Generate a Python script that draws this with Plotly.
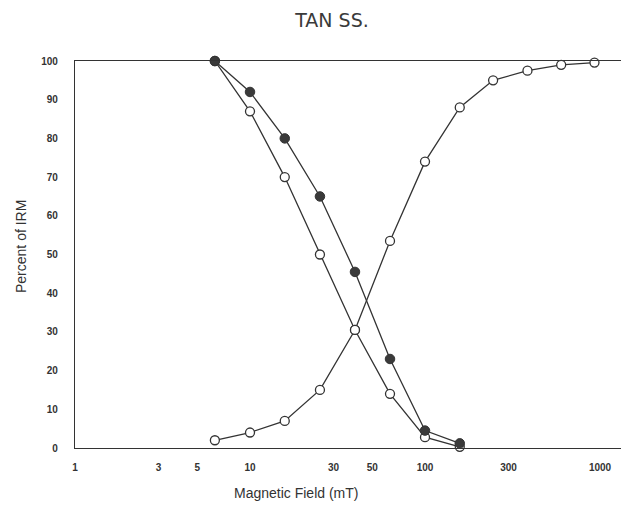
import plotly.graph_objects as go

# Data
field_demag = [6.3, 10, 15.8, 25.1, 39.8, 63.1, 100, 158]
filled_pct = [100, 92, 80, 65, 45.5, 23, 4.5, 1.2]
open_dec_pct = [100, 87, 70, 50, 30.5, 14, 2.8, 0.3]

field_acq = [6.3, 10, 15.8, 25.1, 39.8, 63.1, 100, 158, 245, 385, 600, 930]
open_inc_pct = [2, 4, 7, 15, 30.5, 53.5, 74, 88, 95, 97.5, 99, 99.6]

x_ticks = [1, 3, 5, 10, 30, 50, 100, 300, 1000]
x_ticktext = ["1", "3", "5", "10", "30", "50", "100", "300", "1000"]
y_ticks = [0, 10, 20, 30, 40, 50, 60, 70, 80, 90, 100]

INK = "#333333"
FONT = "Liberation Sans, Arial, sans-serif"

fig = go.Figure()

# lines first
for xs, ys in [(field_acq, open_inc_pct), (field_demag, open_dec_pct), (field_demag, filled_pct)]:
    fig.add_trace(go.Scatter(x=xs, y=ys, mode="lines", line=dict(color=INK, width=1.3),
                             hoverinfo="skip", showlegend=False, cliponaxis=False))

# markers
fig.add_trace(go.Scatter(x=field_acq, y=open_inc_pct, mode="markers", showlegend=False,
                         cliponaxis=False,
                         marker=dict(symbol="circle", size=9, color="white",
                                     line=dict(color=INK, width=1.3))))
fig.add_trace(go.Scatter(x=field_demag, y=open_dec_pct, mode="markers", showlegend=False,
                         cliponaxis=False,
                         marker=dict(symbol="circle", size=9, color="white",
                                     line=dict(color=INK, width=1.3))))
fig.add_trace(go.Scatter(x=field_demag, y=filled_pct, mode="markers", showlegend=False,
                         cliponaxis=False,
                         marker=dict(symbol="circle", size=9.5, color="#3a3a3a",
                                     line=dict(color=INK, width=1))))

W, H = 621, 509
L, R, T, B = 75, 0, 61, 61

fig.update_layout(
    width=W, height=H,
    margin=dict(l=L, r=R, t=T, b=B),
    paper_bgcolor="white", plot_bgcolor="white",
    font=dict(family=FONT, color=INK),
    title=dict(text="TAN SS.", x=332 / W, xref="container", xanchor="center",
               y=1 - 20 / H, yref="container", yanchor="middle",
               font=dict(size=19, color="#3a3a3a", family="DejaVu Sans, sans-serif")),
    xaxis=dict(type="log", range=[0, 3.12], tickvals=x_ticks, ticktext=x_ticktext,
               showgrid=False, zeroline=False, showline=True, mirror=True,
               linecolor=INK, linewidth=1.3, ticks="", ticklabelstandoff=10,
               tickfont=dict(size=10, color=INK, family=FONT, weight="bold")),
    yaxis=dict(range=[0, 100], tickvals=y_ticks, showgrid=False, zeroline=False,
               showline=True, mirror=False, linecolor=INK, linewidth=1.3, ticks="",
               ticklabelstandoff=14,
               tickfont=dict(size=10, color=INK, family=FONT, weight="bold")),
    annotations=[
        dict(text="Magnetic Field (mT)", xref="paper", yref="paper",
             x=(296 - L) / (W - L), y=(448 - 493) / 387, showarrow=False,
             xanchor="center", yanchor="middle",
             font=dict(size=14, color=INK, family=FONT)),
        dict(text="Percent of IRM", xref="paper", yref="paper",
             x=(21 - L) / (W - L), y=(448 - 247) / 387, showarrow=False,
             xanchor="center", yanchor="middle", textangle=-90,
             font=dict(size=14, color=INK, family=FONT)),
    ],
)

fig.write_html("out.html", config={"displayModeBar": False},
               post_script="document.body.style.margin='0';document.body.style.overflow='hidden';")
